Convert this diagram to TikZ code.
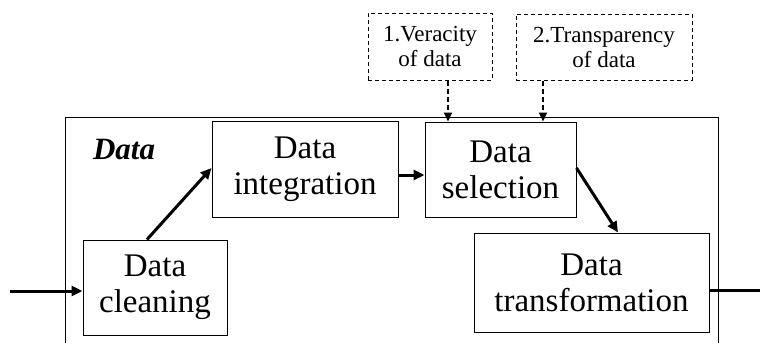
\documentclass[tikz,border=0pt]{standalone}
\usepackage{fontspec}
\setmainfont{Liberation Serif}
\usetikzlibrary{arrows.meta}
\begin{document}
\begin{tikzpicture}[x=1pt,y=-1pt,
  box/.style={draw,line width=1pt,inner sep=0pt,align=center,
    font=\fontsize{33}{36}\selectfont},
  dbox/.style={draw,line width=1pt,dash pattern=on 4pt off 3pt,inner sep=0pt,align=center,
    font=\fontsize{23}{25}\selectfont},
  flow/.style={line width=3pt,-{Triangle[length=11pt,width=10pt]}},
  dflow/.style={line width=2pt,dash pattern=on 5pt off 3pt,-{Triangle[length=9pt,width=8pt]}},
  frame/.style={line width=1pt}]
\useasboundingbox (0,0) rectangle (760,343);
% frame
\coordinate (fbl) at (65,343);
\coordinate (ftl) at (65,117);
\coordinate (ftr) at (718,117);
\coordinate (fbr) at (718,343);
\draw[frame] (fbl) -- (ftl) -- (ftr) -- (fbr);
\node[font=\fontsize{31}{35}\selectfont\bfseries\itshape] (lbl) at (124,150) {Data};
% boxes
\node[box,minimum width=144pt,minimum height=95pt] (clean) at (155,287.5) {Data\\cleaning};
\node[box,minimum width=186pt,minimum height=96pt] (integ) at (305,169) {Data\\integration};
\node[box,minimum width=151pt,minimum height=95pt] (sel) at (500.5,169.5) {Data\\selection};
\node[box,minimum width=235pt,minimum height=99pt] (trans) at (591.5,282.5) {Data\\transformation};
\node[dbox,minimum width=124pt,minimum height=67pt] (d1) at (430,46.5) {1.Veracity\\of data};
\node[dbox,minimum width=176pt,minimum height=66pt] (d2) at (604,47) {2.Transparency\\of data};
% connectors
\coordinate (in) at (10,291);
\coordinate (out) at (760,290);
\draw[flow] (in) -- (clean.west |- in);
\draw[flow] ([xshift=-8pt]clean.north) -- ([yshift=1pt]integ.west);
\draw[flow] ([yshift=-6pt]integ.east) -- ([yshift=-6pt]integ.east -| sel.west);
\draw[flow] ([yshift=1.5pt]sel.east) -- ([xshift=26.5pt]trans.north);
\draw[line width=3pt] ([yshift=-7.5pt]trans.east) -- (out);
\draw[dflow] ([xshift=18pt]d1.south) -- ([xshift=-52.5pt]sel.north);
\draw[dflow] ([xshift=-61pt]d2.south) -- ([xshift=42.5pt]sel.north);
\end{tikzpicture}
\end{document}
